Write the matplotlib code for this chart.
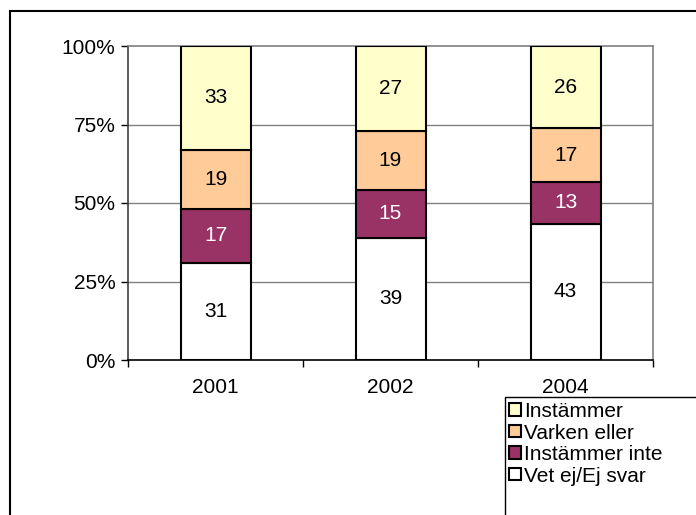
import numpy as np
import matplotlib
matplotlib.use("Agg")
import matplotlib.pyplot as plt
from matplotlib.patches import Rectangle

plt.rcParams['font.family'] = ['Liberation Sans', 'DejaVu Sans']

years = ['2001', '2002', '2004']
series = ['Vet ej/Ej svar', 'Instämmer inte', 'Varken eller', 'Instämmer']
vet_ej = [31, 39, 43]
instammer_inte = [17, 15, 13]
varken_eller = [19, 19, 17]
instammer = [33, 27, 26]
colors = ['#FFFFFF', '#993366', '#FFCC99', '#FFFFCC']
text_colors = ['black', 'white', 'black', 'black']

W, H = 696, 515
fs = 15
fig = plt.figure(figsize=(W / 100, H / 100), dpi=100)

# outer chart frame (runs off the right/bottom edge)
fig.patches.append(Rectangle((10 / W, -0.1), 1.0, (H - 11) / H + 0.1,
                             transform=fig.transFigure, fill=False,
                             edgecolor='black', linewidth=1.5, clip_on=False))

ax = fig.add_axes([128 / W, (H - 360) / H, 525 / W, 314 / H])

data = np.array([vet_ej, instammer_inte, varken_eller, instammer], dtype=float)
pct = data / data.sum(axis=0) * 100
x = np.arange(len(years))
bottom = np.zeros(len(years))
handles = []
for i in range(len(series)):
    b = ax.bar(x, pct[i], 0.4, bottom=bottom, color=colors[i],
               edgecolor='black', linewidth=1.5, label=series[i], zorder=3)
    handles.append(b)
    for j in range(len(years)):
        ax.text(x[j], bottom[j] + pct[i][j] / 2, str(int(data[i][j])),
                ha='center', va='center', fontsize=fs, color=text_colors[i],
                zorder=4)
    bottom += pct[i]

ax.set_xlim(-0.5, 2.5)
ax.set_ylim(0, 100)
ax.set_yticks([0, 25, 50, 75, 100])
ax.set_yticklabels(['0%', '25%', '50%', '75%', '100%'])
ax.set_xticks(x)
ax.set_xticklabels(years)
ax.set_xticks([-0.5, 0.5, 1.5, 2.5], minor=True)
ax.tick_params(axis='x', which='major', length=0, pad=13, labelsize=fs)
ax.tick_params(axis='x', which='minor', length=5, direction='out', width=1)
ax.tick_params(axis='y', length=5, direction='out', width=1, pad=4, labelsize=fs)
for yv in [25, 50, 75]:
    ax.axhline(yv, color='#808080', linewidth=1, zorder=1)
ax.spines['top'].set_color('#808080')
ax.spines['right'].set_color('#808080')
ax.spines['left'].set_color('#404040')
ax.spines['bottom'].set_color('black')
for s in ax.spines.values():
    s.set_linewidth(1.2)

# legend box (clipped by figure edge)
fig.patches.append(Rectangle((505 / W, -0.1), 1.0, (H - 397) / H + 0.1,
                             transform=fig.transFigure, fill=False,
                             edgecolor='black', linewidth=1, clip_on=False))
leg = fig.legend(handles[::-1], series[::-1], loc='upper left',
                 bbox_to_anchor=(507 / W, 1 - 400 / H), frameon=False,
                 fontsize=fs, handlelength=0.55, handleheight=0.55,
                 handletextpad=0.15, labelspacing=0.12, borderaxespad=0,
                 borderpad=0.1)

fig.savefig('out.png', dpi=100)
